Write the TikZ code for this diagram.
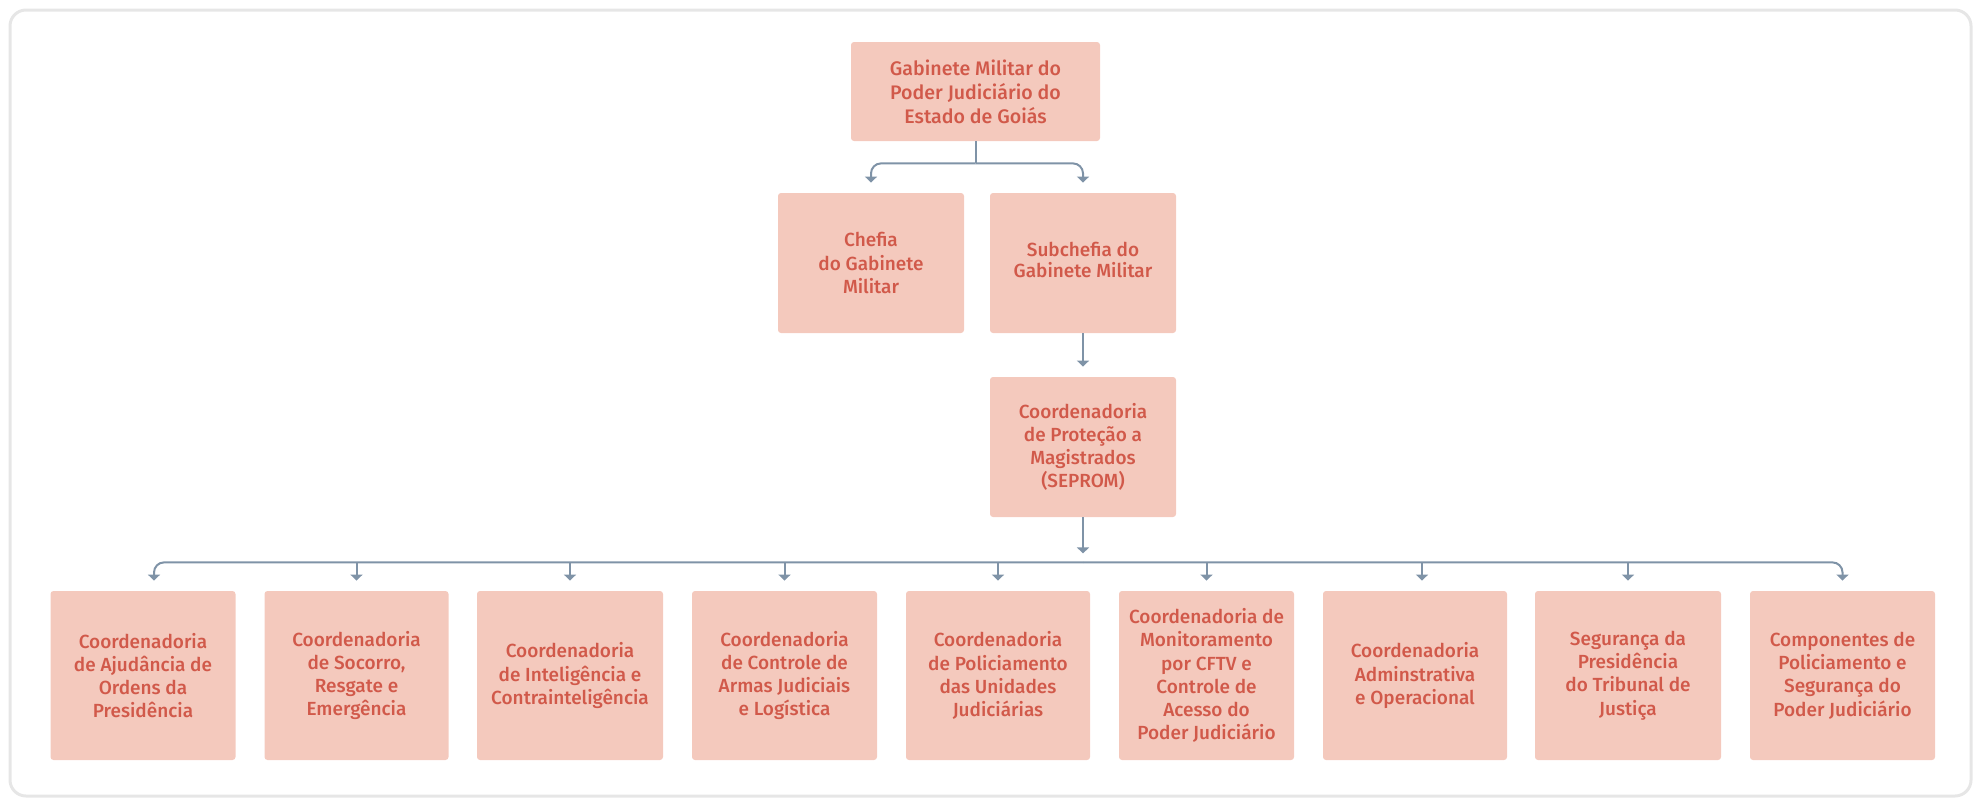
\documentclass[tikz,border=0pt]{standalone}
\usepackage{fontspec}
\setmainfont{Fira Sans}[UprightFont={* Medium}]
\usepackage{xcolor}
\usetikzlibrary{positioning, arrows.meta}

\definecolor{boxfill}{HTML}{F4C9BD}
\definecolor{boxtext}{HTML}{D1594A}
\definecolor{connline}{HTML}{7F93A7}
\definecolor{framegray}{HTML}{E6E6E6}

\begin{document}
\begin{tikzpicture}[x=0.5pt, y=-0.5pt,
    orgbox/.style={fill=boxfill, rounded corners=1.5pt, text=boxtext, align=center,
        inner sep=0pt, minimum width=93pt, minimum height=70pt,
        font=\fontsize{9.5}{11.6}\selectfont},
    conn/.style={draw=connline, line width=1pt, -{Triangle[width=6pt, length=3pt]},
        shorten >=5pt, rounded corners=5pt}]
    \useasboundingbox (0,0) rectangle (1975,798);
    % outer frame
    \draw[framegray, line width=1.5pt, rounded corners=8pt] (10,10) rectangle (1971,796);

    % upper levels
    \node[orgbox, minimum width=124.5pt, minimum height=49.5pt,
        font=\fontsize{9.8}{12}\selectfont] (gmpj) at (975.5,91.5)
        {Gabinete Militar do\\Poder Judiciário do\\Estado de Goiás};
    \node[orgbox] (chefia) at (871,263) {Chefia\\do Gabinete\\Militar};
    \node[orgbox] (subchefia) at (1083,263) {\raisebox{3pt}{\shortstack{Subchefia do\\Gabinete Militar}}};
    \node[orgbox] (seprom) at (1083,447)
        {Coordenadoria\\de Proteção a\\Magistrados\\(SEPROM)};

    \path (gmpj.south) ++(0,22) coordinate (split);
    \draw[connline, line width=1pt] (gmpj.south) -- (split);
    \draw[conn] (split) -| (chefia.north);
    \draw[conn] (split) -| (subchefia.north);
    \draw[conn] (subchefia.south) -- (seprom.north);

    % coordinating units
    \foreach \i/\x/\w/\txt in {
        1/143/92.5/{Coordenadoria\\de Ajudância de\\Ordens da\\Presidência},
        2/356.5/92/{Coordenadoria\\de Socorro,\\Resgate e\\Emergência},
        3/570/93/{Coordenadoria\\de Inteligência e\\Contrainteligência},
        4/784.5/92.5/{Coordenadoria\\de Controle de\\Armas Judiciais\\e Logística},
        5/998/92/{Coordenadoria\\de Policiamento\\das Unidades\\Judiciárias},
        6/1206.5/87.5/{Coordenadoria de\\Monitoramento\\por CFTV e\\Controle de\\Acesso do\\Poder Judiciário},
        7/1415/92/{Coordenadoria\\Adminstrativa\\e Operacional},
        8/1628/93/{Segurança da\\Presidência\\do Tribunal de\\Justiça},
        9/1842.5/92.5/{Componentes de\\Policiamento e\\Segurança do\\Poder Judiciário}} {
        \node[orgbox, minimum width=\w pt, minimum height=84.5pt] (cd\i) at (\x,675.5) {\txt};
    }

    % bus to the coordinating units
    \path (seprom.south) ++(0,45) coordinate (bus);
    \draw[conn, shorten >=4.5pt] (seprom.south) -- (bus);
    \draw[conn] (bus) -| ([xshift=5.5pt]cd1.north);
    \draw[conn] (bus) -| (cd9.north);
    \foreach \i in {2,...,6,8} {
        \draw[conn] (bus -| cd\i.north) -- (cd\i.north);
    }
    \draw[conn] (bus -| 1422,0) -- ([xshift=3.5pt]cd7.north);
\end{tikzpicture}
\end{document}
